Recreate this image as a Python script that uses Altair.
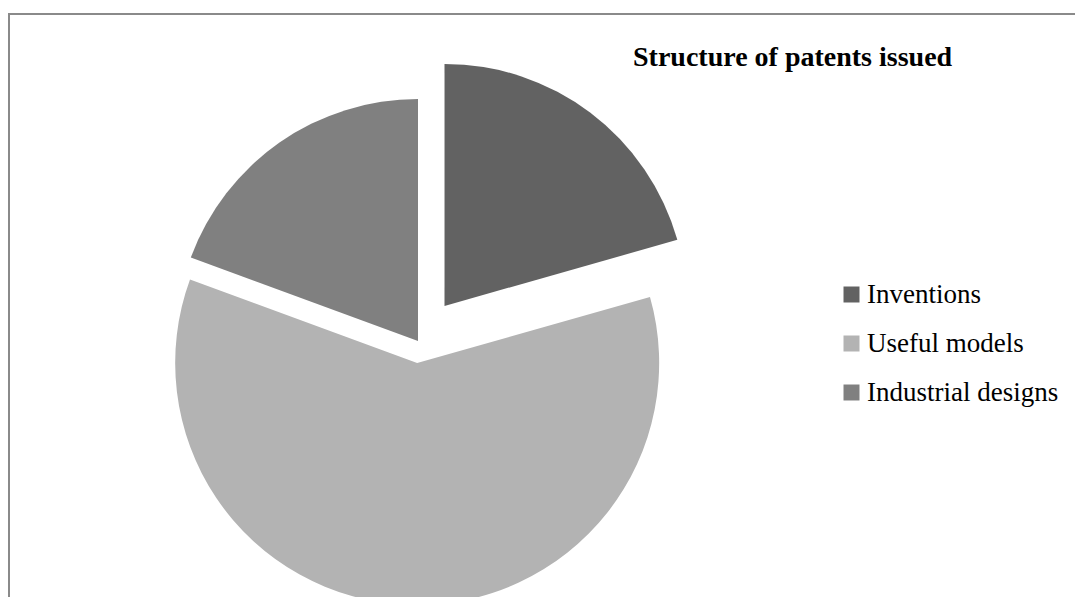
import altair as alt
import pandas as pd

# ---- data ----
categories = ["Inventions", "Useful models", "Industrial designs"]
shares = [20.6, 60.0, 19.4]          # percent of patents issued
title_text = "Structure of patents issued"

# ---- styling ----
colors = ["#626262", "#b3b3b3", "#808080"]
explode = {"Inventions": 44, "Useful models": 22, "Industrial designs": 0}
CX, CY, R = 410, 333, 242
W, H = 1067, 589
SERIF = "Liberation Serif"

df = pd.DataFrame({
    "category": categories,
    "share": shares,
    "idx": list(range(len(categories))),
    "explode": [explode[c] for c in categories],
})

pie = (
    alt.Chart(df)
    .transform_window(cum="sum(share)", sort=[alt.SortField("idx")], frame=[None, 0])
    .transform_joinaggregate(total="sum(share)")
    .transform_calculate(
        t0="2*PI*(datum.cum - datum.share)/datum.total",
        t1="2*PI*datum.cum/datum.total",
    )
    .transform_calculate(mid="(datum.t0 + datum.t1)/2")
    .transform_calculate(
        px=f"{CX} + datum.explode*sin(datum.mid)",
        py=f"{CY} - datum.explode*cos(datum.mid)",
    )
    .mark_arc(radius=R, stroke=None)
    .encode(
        theta=alt.Theta("t0:Q", scale=None),
        theta2="t1:Q",
        x=alt.X("px:Q", scale=None, axis=None),
        y=alt.Y("py:Q", scale=None, axis=None),
        color=alt.Color(
            "category:N",
            scale=alt.Scale(domain=categories, range=colors),
            sort=categories,
            legend=alt.Legend(
                title=None,
                orient="none",
                legendX=830,
                legendY=273,
                symbolType="square",
                symbolSize=256,
                symbolStrokeWidth=0,
                labelFont=SERIF,
                labelFontSize=27,
                labelColor="#000000",
                labelOffset=2,
                rowPadding=21,
                labelLimit=400,
            ),
        ),
    )
)

title = (
    alt.Chart(pd.DataFrame({"t": [title_text]}))
    .mark_text(font=SERIF, fontSize=28, fontWeight="bold", align="left",
               baseline="middle", color="#000000")
    .encode(text="t:N", x=alt.value(625), y=alt.value(50))
)

border_top = alt.Chart(pd.DataFrame({"a": [0]})).mark_rule(
    color="#8a8a8a", strokeWidth=2
).encode(x=alt.value(0), x2=alt.value(W), y=alt.value(6))

border_left = alt.Chart(pd.DataFrame({"a": [0]})).mark_rule(
    color="#8a8a8a", strokeWidth=2
).encode(x=alt.value(1), y=alt.value(5), y2=alt.value(H))

chart = (
    alt.layer(pie, title, border_top, border_left)
    .properties(width=W, height=H, padding=0, autosize=alt.AutoSizeParams(type="none"))
    .configure_view(stroke=None)
)

chart.save("out.html", embed_options={"renderer": "svg", "actions": False})
